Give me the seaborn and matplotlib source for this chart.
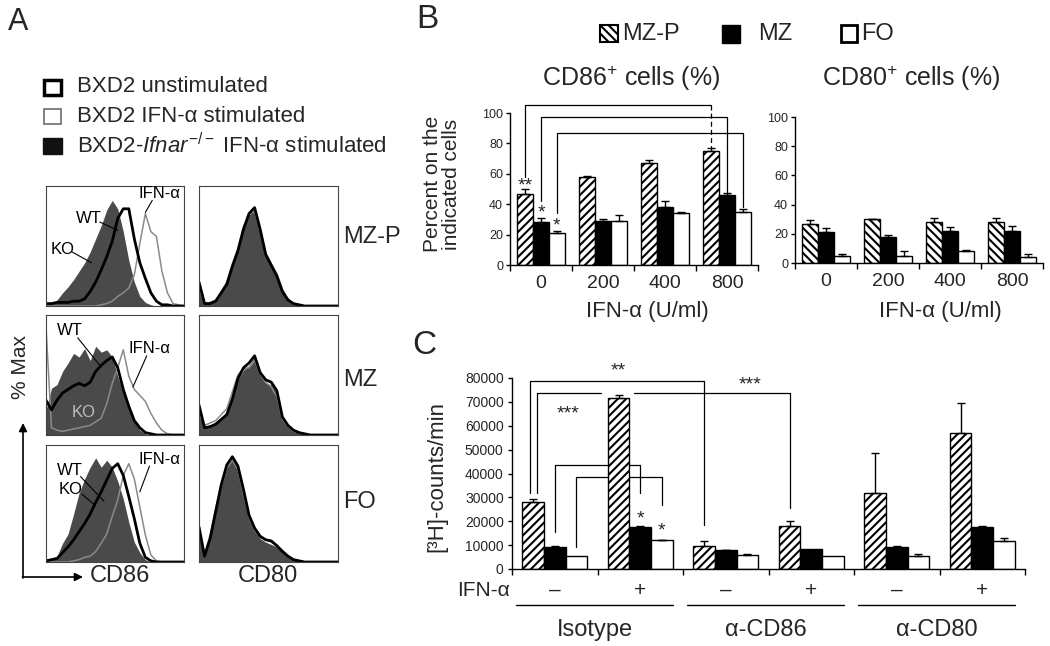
import numpy as np
import pandas as pd
import matplotlib
matplotlib.use("Agg")
import matplotlib.pyplot as plt
import matplotlib.transforms as mtransforms
from matplotlib.patches import Rectangle
import seaborn as sns

# ---------------- panel A: flow histograms (% of max, channel position 0-100) ----------------
hist_x = [0, 4, 8, 12, 16, 20, 24, 28, 32, 36, 40, 44, 48, 52, 56, 60, 64, 68, 72, 76, 80, 84, 88, 92, 96, 100]

mzp_cd86_ko = [1, 2, 5, 11, 16, 22, 29, 36, 45, 56, 67, 80, 88, 81, 62, 38, 20, 8, 3, 1, 0, 0, 0, 0, 0, 0]
mzp_cd86_wt = [2, 2, 3, 3, 3, 4, 4, 6, 12, 20, 30, 41, 54, 73, 81, 81, 56, 36, 23, 11, 4, 1, 1, 0, 0, 0]
mzp_cd86_ifn = [0, 0, 0, 0, 0, 0, 0, 0, 0, 0, 1, 2, 4, 8, 11, 15, 26, 52, 77, 62, 58, 29, 11, 2, 1, 0]
mzp_cd80_ko = [18, 2, 2, 5, 12, 19, 34, 47, 65, 76, 80, 65, 44, 33, 24, 12, 5, 2, 1, 0, 0, 0, 0, 0, 0, 0]
mzp_cd80_wt = [20, 2, 2, 4, 11, 18, 33, 46, 64, 77, 82, 64, 43, 34, 25, 12, 5, 2, 1, 0, 0, 0, 0, 0, 0, 0]
mzp_cd80_ifn = [15, 2, 3, 5, 12, 20, 35, 48, 66, 76, 79, 63, 44, 35, 27, 14, 6, 2, 1, 0, 0, 0, 0, 0, 0, 0]

mz_cd86_ko = [21, 39, 42, 53, 60, 68, 65, 72, 62, 74, 69, 71, 65, 49, 35, 21, 12, 4, 1, 0, 0, 0, 0, 0, 0, 0]
mz_cd86_wt = [29, 21, 29, 35, 38, 41, 43, 41, 44, 53, 58, 62, 65, 56, 38, 24, 12, 6, 2, 1, 0, 0, 0, 0, 0, 0]
mz_cd86_ifn = [90, 6, 4, 3, 4, 5, 6, 7, 8, 11, 14, 26, 43, 56, 71, 49, 38, 33, 28, 18, 10, 4, 1, 0, 0, 0]
mz_cd80_ko = [21, 7, 8, 10, 14, 18, 31, 46, 54, 58, 65, 50, 43, 42, 35, 14, 8, 4, 2, 1, 0, 0, 0, 0, 0, 0]
mz_cd80_wt = [25, 6, 7, 9, 13, 17, 30, 47, 56, 60, 66, 52, 46, 44, 37, 15, 8, 4, 2, 1, 0, 0, 0, 0, 0, 0]
mz_cd80_ifn = [18, 8, 10, 12, 17, 22, 36, 50, 55, 56, 62, 51, 44, 40, 32, 13, 7, 3, 2, 1, 0, 0, 0, 0, 0, 0]

fo_cd86_ko = [1, 3, 5, 16, 24, 41, 59, 71, 81, 89, 81, 87, 81, 69, 54, 34, 17, 8, 2, 0, 0, 0, 0, 0, 0, 0]
fo_cd86_wt = [1, 2, 3, 8, 13, 19, 26, 33, 41, 51, 60, 70, 80, 84, 74, 56, 37, 16, 4, 1, 0, 0, 0, 0, 0, 0]
fo_cd86_ifn = [0, 0, 0, 0, 0, 1, 2, 4, 5, 9, 16, 24, 39, 53, 74, 84, 71, 47, 23, 6, 1, 0, 0, 0, 0, 0]
fo_cd80_ko = [27, 6, 21, 44, 64, 81, 89, 81, 60, 39, 27, 20, 17, 15, 13, 9, 5, 2, 1, 0, 0, 0, 0, 0, 0, 0]
fo_cd80_wt = [30, 5, 20, 43, 66, 83, 90, 82, 62, 40, 29, 22, 19, 18, 14, 9, 5, 2, 1, 0, 0, 0, 0, 0, 0, 0]
fo_cd80_ifn = [25, 7, 23, 46, 65, 80, 87, 79, 58, 38, 27, 21, 19, 17, 14, 10, 5, 2, 1, 0, 0, 0, 0, 0, 0, 0]

# ---------------- panel B: percent positive cells ----------------
cells = ["MZ-P", "MZ", "FO"]
doses = ["0", "200", "400", "800"]
cd86_mzp = [47, 58, 67, 75]
cd86_mz = [28, 29, 38, 46]
cd86_fo = [21, 29, 34, 35]
cd86_mzp_err = [3, 0.5, 2, 2]
cd86_mz_err = [3, 1.5, 4, 1.5]
cd86_fo_err = [1.5, 4, 1, 2]
cd80_mzp = [27, 30, 28, 28]
cd80_mz = [21, 18, 22, 22]
cd80_fo = [5, 5, 8, 4]
cd80_mzp_err = [2.5, 0.3, 2.5, 3]
cd80_mz_err = [3, 1.5, 2.5, 3.5]
cd80_fo_err = [1.5, 3.5, 1, 2.5]

# ---------------- panel C: proliferation ----------------
groups = ["iso-", "iso+", "cd86-", "cd86+", "cd80-", "cd80+"]
ifn_signs = ["\u2013", "+", "\u2013", "+", "\u2013", "+"]
antibodies = ["Isotype", "\u03b1-CD86", "\u03b1-CD80"]
cpm_mzp = [28200, 71500, 9800, 18000, 32000, 57000]
cpm_mz = [9300, 17800, 7800, 8200, 9400, 17700]
cpm_fo = [5300, 12000, 6000, 5600, 5300, 11900]
cpm_mzp_err = [1000, 1200, 1800, 2000, 16500, 12500]
cpm_mz_err = [300, 200, 300, 0, 300, 300]
cpm_fo_err = [0, 300, 300, 0, 800, 1000]

W, H = 1050, 646
sns.set_style("white")
plt.rcParams["font.family"] = ["Liberation Sans", "DejaVu Sans"]
plt.rcParams["mathtext.fontset"] = "custom"
plt.rcParams["mathtext.rm"] = "Liberation Sans"
plt.rcParams["mathtext.it"] = "Liberation Sans:italic"
plt.rcParams["mathtext.default"] = "regular"
plt.rcParams["hatch.linewidth"] = 1.5

fig = plt.figure(figsize=(W / 100, H / 100), dpi=100)


def add_box(x0, y0, x1, y1):
    # axes placed by pixel box (top-left origin)
    return fig.add_axes([x0 / W, 1 - y1 / H, (x1 - x0) / W, (y1 - y0) / H])


# overlay in pixel coordinates for free text / legend squares
ov = fig.add_axes([0, 0, 1, 1], zorder=5)
ov.set_xlim(0, W)
ov.set_ylim(H, 0)
ov.axis("off")


def hist_panel(box, ko, wt, ifn):
    ax = add_box(*box)
    ax.fill_between(hist_x, 0, ko, color="#4a4a4a", lw=0)
    sns.lineplot(x=hist_x, y=ifn, ax=ax, color="#8a8a8a", lw=1.1)
    sns.lineplot(x=hist_x, y=wt, ax=ax, color="black", lw=2)
    ax.set_xlim(0, 100)
    ax.set_ylim(0, 100)
    ax.set_xticks(range(3, 100, 7))
    ax.set_yticks(range(0, 100, 18))
    ax.tick_params(length=2, width=0.6, color="#666", labelleft=False, labelbottom=False)
    for s in ax.spines.values():
        s.set_color("#444")
        s.set_linewidth(0.8)
    ax.set_xlabel("")
    ax.set_ylabel("")
    return ax


def hist_label(ax, text, tx, ty, lx, ly, color="black"):
    ax.text(tx, ty, text, fontsize=12, ha="center", va="center", color=color)
    if lx is not None:
        ax.plot(lx, ly, color="black", lw=0.8, clip_on=False)


a1 = hist_panel((46, 186, 184, 306), mzp_cd86_ko, mzp_cd86_wt, mzp_cd86_ifn)
hist_panel((199, 186, 338, 306), mzp_cd80_ko, mzp_cd80_wt, mzp_cd80_ifn)
a2 = hist_panel((46, 315, 184, 435), mz_cd86_ko, mz_cd86_wt, mz_cd86_ifn)
hist_panel((199, 315, 338, 435), mz_cd80_ko, mz_cd80_wt, mz_cd80_ifn)
a3 = hist_panel((46, 445, 184, 562), fo_cd86_ko, fo_cd86_wt, fo_cd86_ifn)
hist_panel((199, 445, 338, 562), fo_cd80_ko, fo_cd80_wt, fo_cd80_ifn)

hist_label(a1, "WT", 31, 73, [39, 52], [70, 63])
hist_label(a1, "IFN-\u03b1", 82, 94, [77, 72], [88, 78])
hist_label(a1, "KO", 12, 47, [19, 33], [45, 36])
hist_label(a2, "WT", 17, 87, [23, 39], [81, 58])
hist_label(a2, "IFN-\u03b1", 75, 72, [73, 63], [66, 40])
hist_label(a2, "KO", 27, 19, None, None, color="#bdbdbd")
hist_label(a3, "WT", 17, 78, [25, 42], [73, 52])
hist_label(a3, "KO", 18, 62, [26, 36], [58, 48])
hist_label(a3, "IFN-\u03b1", 82, 88, [75, 68], [82, 60])

# panel A texts
ov.text(18, 22, "A", fontsize=22, ha="center", va="center")
ov.add_patch(Rectangle((44, 80), 17, 15, facecolor="white", edgecolor="black", lw=2.5))
ov.add_patch(Rectangle((44, 109), 17, 15, facecolor="white", edgecolor="#777", lw=1.3))
ov.add_patch(Rectangle((43, 138), 19, 16, facecolor="#111", edgecolor="#111", lw=1))
ov.text(77, 87, "BXD2 unstimulated", fontsize=16, va="center")
ov.text(77, 116, "BXD2 IFN-\u03b1 stimulated", fontsize=16, va="center")
ov.text(77, 146, r"BXD2-$\mathit{Ifnar}^{-/-}$" + " IFN-\u03b1 stimulated", fontsize=16, va="center")
ov.text(343, 237, "MZ-P", fontsize=17, va="center")
ov.text(343, 380, "MZ", fontsize=17, va="center")
ov.text(343, 502, "FO", fontsize=17, va="center")
ov.text(20, 367, "% Max", fontsize=15, rotation=90, ha="center", va="center")
ov.annotate("", xy=(23, 423), xytext=(23, 578),
            arrowprops=dict(arrowstyle="-|>", lw=1.2, color="black", mutation_scale=12, shrinkA=0, shrinkB=0))
ov.annotate("", xy=(83, 577), xytext=(22.4, 577),
            arrowprops=dict(arrowstyle="-|>", lw=1.2, color="black", mutation_scale=12, shrinkA=0, shrinkB=0))
ov.text(120, 576, "CD86", fontsize=17, ha="center", va="center")
ov.text(268, 576, "CD80", fontsize=17, ha="center", va="center")


def bar_panel(ax, cats, mzp, mz, fo, errs, hatch):
    df = pd.DataFrame({
        "group": cats * 3,
        "cell": [c for c in cells for _ in cats],
        "value": mzp + mz + fo,
    })
    sns.barplot(data=df, x="group", y="value", hue="cell", order=cats, hue_order=cells,
                palette=["white", "black", "white"], saturation=1, width=0.76,
                edgecolor="black", linewidth=1, errorbar=None, legend=False, ax=ax)
    centers = []
    bars = list(ax.containers)
    for k, cont in enumerate(bars):
        xs = [p.get_x() + p.get_width() / 2 for p in cont]
        ys = [p.get_height() for p in cont]
        centers.append(xs)
        if k == 0:
            for p in cont:
                p.set_hatch(hatch)
        keep = [i for i, e in enumerate(errs[k]) if e > 0]
        ax.errorbar([xs[i] for i in keep], [ys[i] for i in keep],
                    yerr=[[0] * len(keep), [errs[k][i] for i in keep]],
                    fmt="none", ecolor="black", elinewidth=1, capsize=3, capthick=1, zorder=3)
    sns.despine(ax=ax)
    for s in ("left", "bottom"):
        ax.spines[s].set_color("black")
        ax.spines[s].set_linewidth(1)
    ax.set_xlim(-0.5, len(cats) - 0.5)
    ax.set_xlabel("")
    ax.set_ylabel("")
    ax.set_xticks([i - 0.5 for i in range(len(cats) + 1)])
    ax.set_xticklabels([])
    ax.tick_params(axis="x", which="major", direction="out", length=4, width=1, color="black", bottom=True)
    ax.tick_params(axis="y", direction="out", length=3, width=1, color="black", left=True, pad=2)
    return centers


# panel B
b1 = add_box(510, 113, 758, 265)
c1 = bar_panel(b1, doses, cd86_mzp, cd86_mz, cd86_fo,
               [cd86_mzp_err, cd86_mz_err, cd86_fo_err], "////")
b2 = add_box(795, 117, 1043, 263)
bar_panel(b2, doses, cd80_mzp, cd80_mz, cd80_fo,
          [cd80_mzp_err, cd80_mz_err, cd80_fo_err], "\\\\\\\\")
for ax in (b1, b2):
    ax.set_ylim(0, 100)
    ax.set_yticks(range(0, 101, 20))
    ax.tick_params(axis="y", labelsize=9)
    ax.set_xticks(range(len(doses)), minor=True)
    ax.set_xticklabels(doses, minor=True, fontsize=14)
    ax.tick_params(axis="x", which="minor", length=0, pad=7)

# significance brackets on CD86 panel
lk = dict(color="black", lw=0.9, clip_on=False, zorder=0.5)
b1.plot([c1[0][0], c1[0][0], c1[0][3]], [58, 105.3, 105.3], **lk)
b1.plot([c1[0][3], c1[0][3]], [105.3, 77], ls=(0, (4, 2.5)), **lk)
b1.plot([c1[1][0], c1[1][0], c1[1][3], c1[1][3]], [42, 97.4, 97.4, 48], **lk)
b1.plot([c1[2][0], c1[2][0], c1[2][3], c1[2][3]], [34, 86.8, 86.8, 38], **lk)
b1.text(c1[0][0], 52, "**", fontsize=14, ha="center", va="center")
b1.text(c1[1][0], 34, "*", fontsize=14, ha="center", va="center")
b1.text(c1[2][0], 26, "*", fontsize=14, ha="center", va="center")

ov.text(427, 20, "B", fontsize=24, ha="center", va="center")
ov.add_patch(Rectangle((600, 25), 18, 17, facecolor="white", edgecolor="black", lw=1.5, hatch="\\\\\\\\"))
ov.text(622, 34, "MZ-P", fontsize=17, va="center")
ov.add_patch(Rectangle((722, 25), 18, 18, facecolor="black", edgecolor="black", lw=1))
ov.text(758, 34, "MZ", fontsize=17, va="center")
ov.add_patch(Rectangle((841, 25), 16, 17, facecolor="white", edgecolor="black", lw=2))
ov.text(861, 34, "FO", fontsize=17, va="center")
ov.text(631, 78, r"CD86$^{+}$ cells (%)", fontsize=18, ha="center", va="center")
ov.text(911, 78, r"CD80$^{+}$ cells (%)", fontsize=18, ha="center", va="center")
ov.text(442, 184, "Percent on the\nindicated cells", fontsize=15, rotation=90,
        ha="center", va="center", multialignment="center", linespacing=0.95)
ov.text(647, 312, "IFN-\u03b1 (U/ml)", fontsize=16, ha="center", va="center")
ov.text(940, 312, "IFN-\u03b1 (U/ml)", fontsize=16, ha="center", va="center")

# panel C
cx = add_box(512, 378, 1025, 569)
cc = bar_panel(cx, groups, cpm_mzp, cpm_mz, cpm_fo,
               [cpm_mzp_err, cpm_mz_err, cpm_fo_err], "////")
cx.set_ylim(0, 80000)
cx.set_yticks(range(0, 80001, 10000))
cx.tick_params(axis="y", labelsize=10, pad=3)

cx.plot([cc[0][0] - 0.04, cc[0][0] - 0.04, cc[0][2], cc[0][2]], [31800, 78700, 78700, 18400], **lk)
cx.plot([cc[0][0] + 0.04, cc[0][0] + 0.04, cc[0][1] - 0.2], [31800, 73700, 73700], **lk)
cx.plot([cc[0][1] + 0.18, cc[0][3], cc[0][3]], [73700, 73700, 25500], **lk)
cx.plot([cc[1][0], cc[1][0], cc[1][1], cc[1][1]], [15500, 43600, 43600, 31800], **lk)
cx.plot([cc[2][0], cc[2][0], cc[2][1], cc[2][1]], [9200, 38500, 38500, 26800], **lk)
cx.text(0.74, 83000, "**", fontsize=14, ha="center", va="center")
cx.text(0.16, 65000, "***", fontsize=14, ha="center", va="center")
cx.text(2.28, 77000, "***", fontsize=14, ha="center", va="center")
cx.text(cc[1][1], 21000, "*", fontsize=14, ha="center", va="center")
cx.text(cc[2][1], 16000, "*", fontsize=14, ha="center", va="center")

blend = mtransforms.blended_transform_factory(cx.transData, ov.transData)
for i, s in enumerate(ifn_signs):
    ov.text(i, 590, s, transform=blend, fontsize=15, ha="center", va="center")
for j, name in enumerate(antibodies):
    ov.plot([2 * j - 0.45, 2 * j + 1.38], [605, 605], transform=blend, color="black", lw=1)
    ov.text(2 * j + 0.47, 630, name, transform=blend, fontsize=17, ha="center", va="center")
ov.text(457, 590, "IFN-\u03b1", fontsize=15, va="center")
ov.text(424, 346, "C", fontsize=24, ha="center", va="center")
ov.text(437, 477, "[\u00b3H]-counts/min", fontsize=16, rotation=90, ha="center", va="center")

fig.savefig("out.png", dpi=100)
plt.close(fig)
